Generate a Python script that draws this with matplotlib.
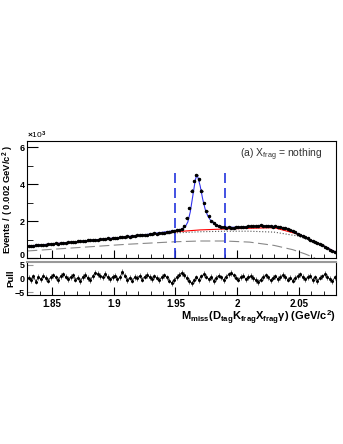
import numpy as np
import matplotlib
matplotlib.use('Agg')
import matplotlib.pyplot as plt
from matplotlib.ticker import MultipleLocator, FuncFormatter

plt.rcParams['font.family'] = ['Liberation Sans', 'DejaVu Sans']
plt.rcParams['mathtext.fontset'] = 'custom'
plt.rcParams['mathtext.rm'] = 'Liberation Sans:bold'
plt.rcParams['mathtext.it'] = 'Liberation Sans:bold'
plt.rcParams['mathtext.bf'] = 'Liberation Sans:bold'

# binned data, 0.002 GeV/c^2 bins from 1.83 to 2.08
bin_lo = 1.83
bin_w = 0.002
counts = [650, 665, 660, 690, 700, 705, 730, 720, 750, 765,
          770, 790, 780, 800, 820, 815, 850, 870, 860, 880,
          900, 920, 910, 935, 950, 960, 980, 970, 1000, 1020,
          1010, 1040, 1060, 1050, 1080, 1100, 1090, 1130, 1120, 1150,
          1170, 1160, 1200, 1210, 1230, 1220, 1250, 1270, 1260, 1300,
          1310, 1330, 1320, 1350, 1370, 1380, 1400, 1410, 1440, 1470,
          1500, 1530, 1570, 1750, 2150, 2700, 3650, 4150, 4500, 4250,
          3650, 2950, 2550, 2250, 2000, 1880, 1800, 1740, 1700, 1680,
          1650, 1660, 1640, 1650, 1670, 1660, 1690, 1680, 1700, 1720,
          1710, 1740, 1750, 1740, 1760, 1750, 1730, 1740, 1720, 1700,
          1710, 1680, 1660, 1640, 1600, 1560, 1500, 1450, 1390, 1320,
          1260, 1200, 1130, 1060, 1000, 940, 880, 820, 760, 700,
          620, 540, 460, 380, 300]

pulls = [0.3, -0.5, 0.8, -1.2, 0.5, -0.3, 1.1, 0.2, -0.8, 0.6,
         1.2, 0.4, -0.6, 0.9, 1.5, 0.7, -0.2, 0.5, 1.2, -0.4,
         0.3, -0.9, 0.6, 1.3, 0.2, -0.5, 0.8, 2.2, 1.6, 0.9,
         0.4, 1.7, 0.5, -0.3, 0.6, 1.1, -0.2, 0.4, 2.4, 1.0,
         -0.6, 0.3, -0.8, 0.5, 0.2, 1.0, -0.4, 0.7, 1.3, 0.6,
         -0.2, 0.8, 0.3, -0.5, 0.5, 1.2, 0.4, -0.8, -1.6, -0.6,
         0.5, 1.4, 2.1, 1.3, 0.2, -0.9, -1.8, -0.7, 0.4, -0.5,
         0.8, 1.6, 0.7, -0.3, 0.6, -0.9, 0.2, 1.1, 0.4, -0.6,
         0.7, 1.5, 2.0, 1.2, 0.3, -0.4, 0.6, 1.0, -0.3, 0.5,
         0.9, 0.2, -0.6, -1.3, -0.4, 0.5, 1.2, 0.4, -0.7, 0.3,
         0.8, -0.2, 0.6, 1.3, 0.5, -0.4, 0.3, -0.8, 0.2, 0.9,
         1.5, 0.6, -0.3, 0.5, 1.0, -0.5, 0.4, -0.9, 0.3, 0.8,
         1.6, 0.5, -0.2, -1.1, 0.4]

# fit curves
fit_x = [1.83, 1.85, 1.87, 1.89, 1.91, 1.93, 1.95, 1.955, 1.958, 1.960,
         1.962, 1.964, 1.966, 1.967, 1.968, 1.970, 1.972, 1.974, 1.976,
         1.978, 1.980, 1.983, 1.986, 1.99, 2.0, 2.01, 2.02, 2.03, 2.04,
         2.05, 2.06, 2.07, 2.08]
fit_total = [645, 765, 875, 1010, 1150, 1300, 1490, 1560, 1700, 1950,
             2500, 3350, 4200, 4450, 4400, 3900, 3200, 2650, 2300,
             2080, 1930, 1800, 1720, 1670, 1660, 1710, 1750, 1710, 1590,
             1290, 960, 650, 310]
bkg_x = [1.83, 1.85, 1.87, 1.89, 1.91, 1.93, 1.95, 1.97, 1.99, 2.01,
         2.03, 2.05, 2.07, 2.08]
bkg_total = [640, 760, 870, 1000, 1140, 1280, 1420, 1520, 1570, 1610,
             1640, 1280, 650, 310]
bkg_dotted = [610, 720, 830, 950, 1080, 1220, 1360, 1420, 1450, 1450,
              1400, 1180, 600, 290]
dash_x = [1.83, 1.87, 1.91, 1.95, 1.97, 1.99, 2.01, 2.03, 2.045, 2.055, 2.063]
bkg_dashed = [380, 560, 740, 880, 920, 920, 860, 680, 450, 220, 0]

window = [1.95, 1.99]

x = bin_lo + bin_w * (np.arange(len(counts)) + 0.5)
counts = np.array(counts, dtype=float)
pulls = np.array(pulls)

fig = plt.figure(figsize=(3.43, 4.44), dpi=100)
ax = fig.add_axes([0.0796, 0.4189, 0.9000, 0.2635])
axp = fig.add_axes([0.0796, 0.3356, 0.9000, 0.0743])

ax.plot(dash_x, bkg_dashed, color='#888888', lw=0.8, dashes=(9, 4))
ax.plot(bkg_x, bkg_dotted, color='#555555', lw=0.8, ls=':')
ax.plot(bkg_x, bkg_total, color='red', lw=0.8)
ax.plot(fit_x, fit_total, color='#3333ee', lw=0.8)
ax.errorbar(x, counts, yerr=np.sqrt(counts), xerr=bin_w / 2, fmt='o',
            color='black', ms=1.5, lw=1.0, capsize=0)
for w in window:
    ax.plot([w, w], [0, 4600], color='#2233dd', lw=1.2, dashes=(6, 3))

ax.set_xlim(1.83, 2.08)
ax.set_ylim(0, 6330)
ax.xaxis.set_major_locator(MultipleLocator(0.05))
ax.xaxis.set_minor_locator(MultipleLocator(0.01))
ax.set_yticks([0, 2000, 4000, 6000])
ax.yaxis.set_minor_locator(MultipleLocator(1000))
ax.yaxis.set_major_formatter(FuncFormatter(lambda v, p: f"{v / 1000:g}"))
ax.tick_params(axis='both', which='both', direction='in', top=False, right=False)
ax.tick_params(axis='x', which='major', length=6, labelbottom=False)
ax.tick_params(axis='x', which='minor', length=3)
ax.tick_params(axis='y', which='major', length=8, labelsize=6.5, pad=2)
ax.tick_params(axis='y', which='minor', length=4)
for lab in ax.get_yticklabels():
    lab.set_fontweight('bold')
# keep the "0" clear of the pull panel's "5"
ax.yaxis.get_major_ticks()[0].label1.set_verticalalignment('baseline')
ax.set_ylabel('Events / ( 0.002 GeV/c$^2$ )', fontsize=6.8, fontweight='bold')
ax.yaxis.set_label_coords(-0.038, 0.5)
ax.text(0.0, 1.0, r'$\times$10$^3$', transform=ax.transAxes, fontsize=6,
        ha='left', va='bottom')
ax.text(0.69, 0.885, r'(a) X$_{\mathregular{frag}}$ = nothing',
        transform=ax.transAxes, fontsize=7.5, color='#333333', ha='left',
        va='center', fontweight='normal')

# pull panel
axp.errorbar(x, pulls, yerr=1.0, fmt='o-', color='black', ecolor='#555555',
             ms=1.2, lw=0.5, elinewidth=0.6, capsize=0)
axp.set_xlim(1.83, 2.08)
axp.set_ylim(-6.1, 6.1)
axp.set_yticks([-5, 0, 5])
axp.xaxis.set_major_locator(MultipleLocator(0.05))
axp.xaxis.set_minor_locator(MultipleLocator(0.01))
axp.xaxis.set_major_formatter(FuncFormatter(lambda v, p: f"{v:g}"))
axp.tick_params(axis='both', which='both', direction='in', top=False, right=False)
axp.tick_params(axis='x', which='major', length=6, labelsize=7, pad=3)
axp.tick_params(axis='x', which='minor', length=3)
axp.tick_params(axis='y', which='major', length=4, labelsize=6.5, pad=2, color='#999999')
for lab in axp.get_xticklabels() + axp.get_yticklabels():
    lab.set_fontweight('bold')
axp.spines['top'].set_color('#999999')
axp.spines['top'].set_linewidth(1.5)
axp.set_ylabel('Pull', fontsize=6.8, fontweight='bold')
axp.yaxis.set_label_coords(-0.038, 0.5)
axp.set_xlabel(r'M$_{\mathregular{miss}}$(D$_{\mathregular{tag}}$K$_{\mathregular{frag}}$'
               r'X$_{\mathregular{frag}}$$\gamma$) (GeV/c$^2$)',
               fontsize=8, fontweight='bold')
axp.xaxis.set_label_coords(1.0, -0.42)
axp.xaxis.label.set_ha('right')

fig.savefig('out.png', dpi=100)
